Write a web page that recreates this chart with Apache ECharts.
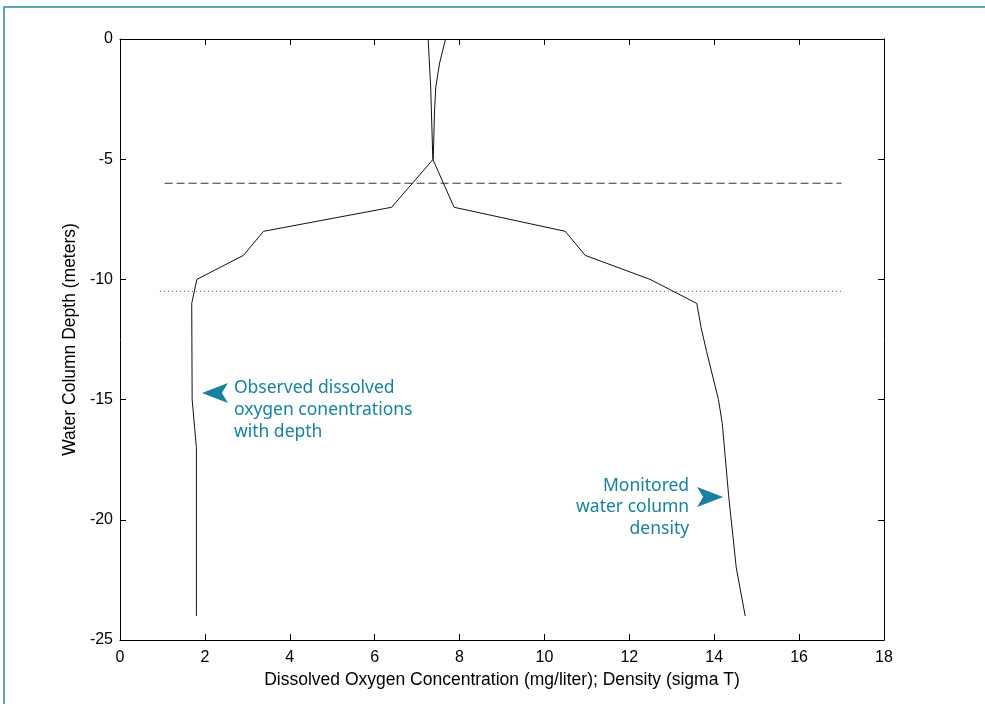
<!DOCTYPE html>
<html>
<head>
<meta charset="utf-8">
<script src="https://cdn.jsdelivr.net/npm/echarts@6/dist/echarts.min.js"></script>
<style>
html,body{margin:0;padding:0;background:#fff;}
#chart{width:985px;height:704px;}
</style>
</head>
<body>
<div id="chart"></div>
<script>
// ---- data ----
const xTicks = [0, 2, 4, 6, 8, 10, 12, 14, 16, 18];
const yTicks = [0, -5, -10, -15, -20, -25];

const oxygenDepth = [0, -1, -2, -3, -5, -7, -8, -9, -10, -11, -15, -17, -24];
const oxygenValue = [7.67, 7.53, 7.44, 7.41, 7.38, 6.40, 3.38, 2.91, 1.81, 1.69, 1.70, 1.80, 1.80];

const densityDepth = [0, -2, -5, -7, -8, -9, -10, -11, -12, -13, -15, -16, -19, -22, -24];
const densityValue = [7.26, 7.32, 7.37, 7.87, 10.49, 10.96, 12.49, 13.59, 13.69, 13.82, 14.10, 14.19, 14.34, 14.52, 14.73];

const dashedLineX = [1.05, 17];
const dashedLineDepth = -6;
const dottedLineX = [0.94, 17];
const dottedLineDepth = -10.5;

const xLabel = 'Dissolved Oxygen Concentration (mg/liter); Density (sigma T)';
const yLabel = 'Water Column Depth (meters)';
const oxygenNote = 'Observed dissolved\noxygen conentrations\nwith depth';
const densityNote = 'Monitored\nwater column\ndensity';
const oxygenNoteAnchor = [1.93, -14.73];
const densityNoteAnchor = [14.21, -19.05];

// ---- chart ----
const teal = '#17819f';
const chart = echarts.init(document.getElementById('chart'), null, {renderer: 'canvas'});
const font = '"Liberation Sans", Arial, sans-serif';

function pairs(xs, ys) { return xs.map((v, i) => [v, ys[i]]); }

function axisBase() {
  return {
    type: 'value',
    axisLine: {show: true, onZero: false, lineStyle: {color: '#000', width: 1}},
    axisTick: {show: true, inside: true, length: 6, lineStyle: {color: '#000'}},
    splitLine: {show: false}
  };
}

chart.setOption({
  animation: false,
  backgroundColor: '#fff',
  grid: {left: 120, top: 39, width: 764, height: 601, containLabel: false},
  xAxis: [
    Object.assign(axisBase(), {
      min: xTicks[0], max: xTicks[xTicks.length - 1], interval: 2, position: 'bottom',
      name: xLabel, nameLocation: 'middle', nameGap: 31,
      nameTextStyle: {fontFamily: font, fontSize: 17.5, color: '#000'},
      axisLabel: {fontFamily: font, fontSize: 16, color: '#000', margin: 10}
    }),
    Object.assign(axisBase(), {
      min: xTicks[0], max: xTicks[xTicks.length - 1], interval: 2, position: 'top',
      axisLabel: {show: false}
    })
  ],
  yAxis: [
    Object.assign(axisBase(), {
      min: yTicks[yTicks.length - 1], max: yTicks[0], interval: 5, position: 'left',
      name: yLabel, nameLocation: 'middle', nameGap: 36,
      nameTextStyle: {fontFamily: font, fontSize: 17.5, color: '#000'},
      axisLabel: {fontFamily: font, fontSize: 16, color: '#000', margin: 7}
    }),
    Object.assign(axisBase(), {
      min: yTicks[yTicks.length - 1], max: yTicks[0], interval: 5, position: 'right',
      axisLabel: {show: false}
    })
  ],
  series: [
    {
      name: 'Oxygen', type: 'line', showSymbol: false, symbol: 'none',
      data: pairs(oxygenValue, oxygenDepth),
      lineStyle: {color: '#111', width: 1}
    },
    {
      name: 'Density', type: 'line', showSymbol: false, symbol: 'none',
      data: pairs(densityValue, densityDepth),
      lineStyle: {color: '#111', width: 1}
    },
    {
      name: 'Dashed', type: 'line', showSymbol: false, symbol: 'none',
      data: dashedLineX.map(x => [x, dashedLineDepth]),
      lineStyle: {color: '#333', width: 1, type: [8, 4]}
    },
    {
      name: 'Dotted', type: 'line', showSymbol: false, symbol: 'none',
      data: dottedLineX.map(x => [x, dottedLineDepth]),
      lineStyle: {color: '#555', width: 1, type: [1, 3]}
    }
  ]
});

function arrowPoints(tip, dir) {
  // dir = -1 points left, +1 points right
  const [x, y] = tip;
  return [[x, y], [x - dir * 26, y - 10], [x - dir * 20, y], [x - dir * 26, y + 10]];
}

const oTip = chart.convertToPixel({gridIndex: 0}, oxygenNoteAnchor);
const dTip = chart.convertToPixel({gridIndex: 0}, densityNoteAnchor);
const noteFont = '17.5px "Noto Sans", "Open Sans", sans-serif';

chart.setOption({
  graphic: [
    {type: 'rect', shape: {x: 4, y: 7, width: 1000, height: 720},
     style: {fill: 'none', stroke: '#2a86a8', lineWidth: 1.5}, silent: true},
    {type: 'polygon', shape: {points: arrowPoints(oTip, -1)}, style: {fill: teal}},
    {type: 'text', x: oTip[0] + 32, y: oTip[1] - 16,
     style: {text: oxygenNote, font: noteFont, fill: teal, lineHeight: 22, textAlign: 'left', textVerticalAlign: 'top'}},
    {type: 'polygon', shape: {points: arrowPoints(dTip, 1)}, style: {fill: teal}},
    {type: 'text', x: dTip[0] - 34, y: dTip[1] - 22,
     style: {text: densityNote, font: noteFont, fill: teal, lineHeight: 21.5, textAlign: 'right', textVerticalAlign: 'top'}}
  ]
});
</script>
</body>
</html>
